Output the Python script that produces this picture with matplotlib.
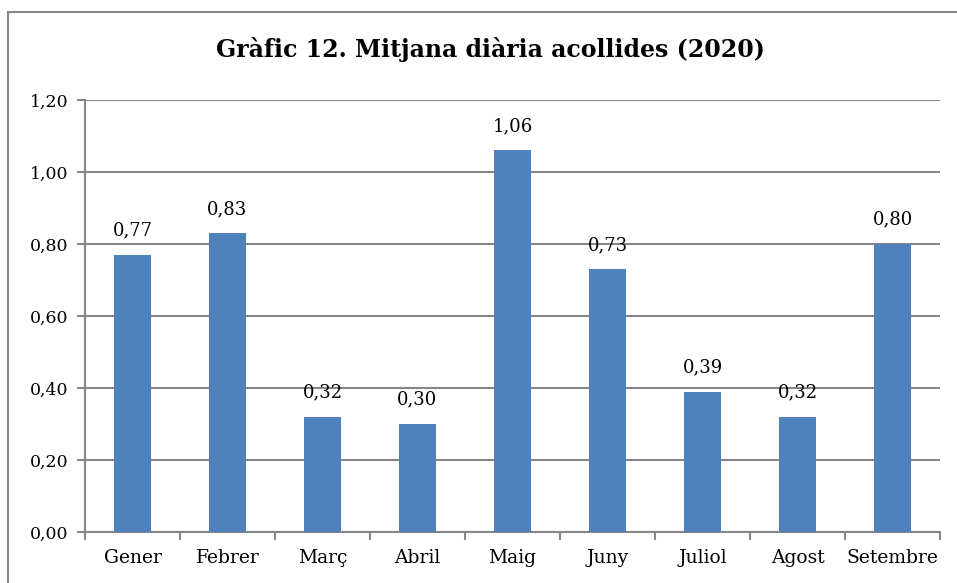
import numpy as np
import matplotlib
matplotlib.use('Agg')
from matplotlib import pyplot as plt
from matplotlib.patches import Rectangle

# dades
mesos = ['Gener', 'Febrer', 'Març', 'Abril', 'Maig', 'Juny', 'Juliol', 'Agost', 'Setembre']
mitjana = [0.77, 0.83, 0.32, 0.30, 1.06, 0.73, 0.39, 0.32, 0.80]
yticks = [0.0, 0.2, 0.4, 0.6, 0.8, 1.0, 1.2]

plt.rcParams['font.family'] = ['DejaVu Serif']
gris = '#868686'

fig = plt.figure(figsize=(9.57, 5.83), dpi=100)
ax = fig.add_axes([85/957, 51/583, 855/957, 432/583])

x = np.arange(len(mesos))
bars = ax.bar(x, mitjana, width=0.39, color='#4F81BD', zorder=3)

for b, v in zip(bars, mitjana):
    ax.annotate(('%.2f' % v).replace('.', ','), (b.get_x() + b.get_width()/2, v),
                xytext=(0, 11), textcoords='offset points', ha='center', va='bottom',
                fontsize=13)

ax.set_xlim(-0.5, len(mesos) - 0.5)
ax.set_ylim(0, 1.2)
ax.set_yticks(yticks)
ax.set_yticklabels([('%.2f' % t).replace('.', ',') for t in yticks], fontsize=12.5)
ax.yaxis.grid(True, color=gris, linewidth=1.5, zorder=0)
ax.set_axisbelow(True)

ax.set_xticks(x)
ax.set_xticklabels(mesos, fontsize=13.5)
ax.set_xticks(np.arange(-0.5, len(mesos), 1), minor=True)
ax.tick_params(axis='x', which='major', length=0, pad=12)
ax.tick_params(axis='x', which='minor', length=6, width=1.5, color=gris)
ax.tick_params(axis='y', length=6, width=1.5, color=gris, pad=6)

for s in ['top', 'right']:
    ax.spines[s].set_visible(False)
for s in ['left', 'bottom']:
    ax.spines[s].set_color(gris)
    ax.spines[s].set_linewidth(1.5)

fig.text(490/957, 1 - 50/583, 'Gràfic 12. Mitjana diària acollides (2020)',
         ha='center', va='center', fontsize=17, fontweight='bold')

# marc
fig.patches.append(Rectangle((8/957, -0.05), 1.0, 1 - 12/583 + 0.05, transform=fig.transFigure,
                             fill=False, edgecolor=gris, linewidth=1.5))

fig.savefig('out.png', dpi=100)
